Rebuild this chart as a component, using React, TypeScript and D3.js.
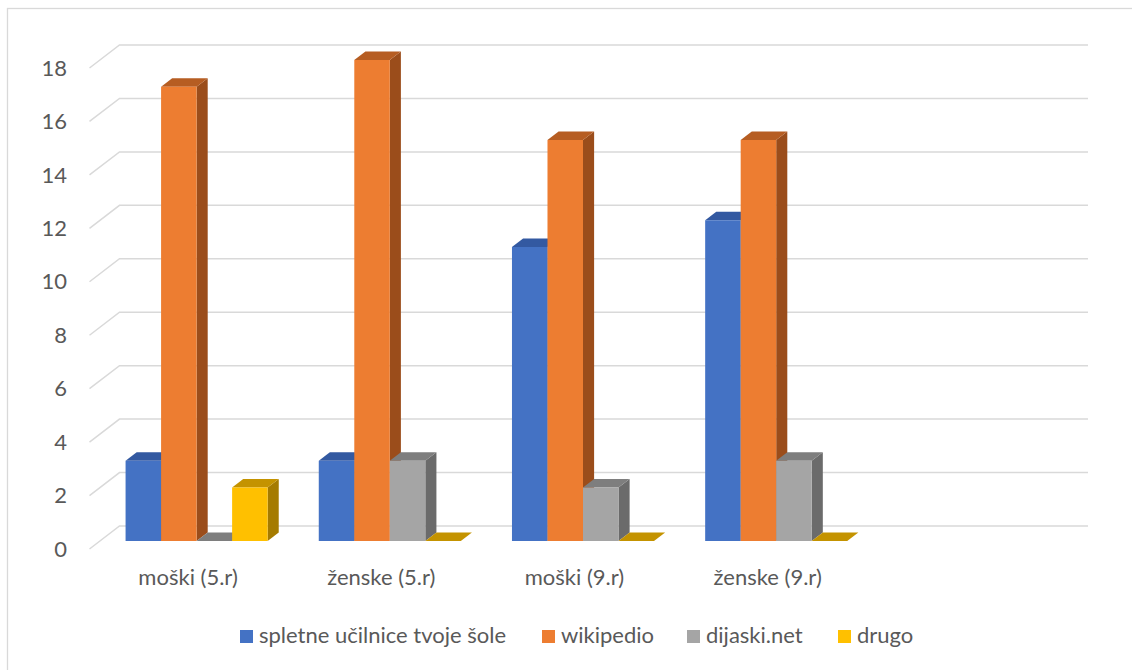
import React from "react";
import * as d3 from "d3";

const categories = ["moški (5.r)", "ženske (5.r)", "moški (9.r)", "ženske (9.r)", ""];
const seriesNames = ["spletne učilnice tvoje šole", "wikipedio", "dijaski.net", "drugo"];
const spletne = [3, 3, 11, 12, null];
const wikipedio = [17, 18, 15, 15, null];
const dijaski = [0, 3, 2, 3, null];
const drugo = [2, 0, 0, 0, null];
const yTicks = [0, 2, 4, 6, 8, 10, 12, 14, 16, 18];

const seriesValues = [spletne, wikipedio, dijaski, drugo];
const fronts = ["#4472C4", "#ED7D31", "#A5A5A5", "#FFC000"];
const tops = ["#3359A1", "#B65D22", "#7E7E7E", "#C49300"];
const sides = ["#2D4F8E", "#9B4D1B", "#6B6B6B", "#A57B00"];

const W = 1132;
const H = 670;
const DX = 30;
const DY = 23;
const Z0 = 0.35;
const Z1 = 0.72;
const FONT = "Lato, 'Open Sans', sans-serif";
const TEXT = "#595959";

export default function App() {
  const y = d3.scaleLinear().domain([0, 18]).range([549, 68]);
  const x = d3.scaleBand<string>().domain(categories.map((c, i) => c + "#" + i)).range([89.5, 1055.5]).padding(0);
  const inner = d3.scaleBand<string>().domain(seriesNames).range([0, x.bandwidth()]).paddingInner(0).paddingOuter(0.72);
  const P = (px: number, v: number, z: number) => [px + z * DX, y(v) - z * DY];
  const pts = (arr: number[][]) => arr.map((p) => p.join(",")).join(" ");

  const bars: JSX.Element[] = [];
  categories.forEach((c, ci) => {
    const bx = x(c + "#" + ci) as number;
    seriesNames.forEach((s, si) => {
      const v = seriesValues[si][ci];
      if (v === null || v === undefined) return;
      const x0 = bx + (inner(s) as number);
      const x1 = x0 + inner.bandwidth();
      const top = pts([P(x0, v, Z0), P(x1, v, Z0), P(x1, v, Z1), P(x0, v, Z1)]);
      if (v === 0) {
        bars.push(<polygon key={`b${ci}-${si}`} points={top} fill={tops[si]} />);
        return;
      }
      const front = pts([P(x0, 0, Z0), P(x1, 0, Z0), P(x1, v, Z0), P(x0, v, Z0)]);
      const side = pts([P(x1, 0, Z0), P(x1, 0, Z1), P(x1, v, Z1), P(x1, v, Z0)]);
      bars.push(
        <g key={`b${ci}-${si}`}>
          <polygon points={side} fill={sides[si]} />
          <polygon points={top} fill={tops[si]} />
          <polygon points={front} fill={fronts[si]} />
        </g>
      );
    });
  });

  const xLeft = x.range()[0];
  const xRight = x.range()[1] + 2.5;
  const legendX = [240, 542, 687, 838];

  return (
    <svg width={W} height={H} style={{ position: "absolute", left: 0, top: 0 }} fontFamily={FONT}>
      <rect x={0} y={0} width={W} height={H} fill="#fff" />
      <rect x={7.5} y={8.5} width={W + 20} height={H + 20} fill="none" stroke="#d9d9d9" strokeWidth={1.3} />
      {yTicks.map((t) => {
        const a = P(xLeft, t, 0);
        const b = P(xLeft, t, 1);
        const c = P(xRight, t, 1);
        return (
          <polyline key={`g${t}`} points={pts([a, b, c])} fill="none" stroke="#d9d9d9" strokeWidth={1.5} />
        );
      })}
      {bars}
      {yTicks.map((t) => (
        <text key={`yt${t}`} x={67} y={y(t)} dy="0.35em" textAnchor="end" fontSize={22} fill={TEXT}>
          {t}
        </text>
      ))}
      {categories.map((c, i) =>
        c ? (
          <text key={`xl${i}`} x={(x(c + "#" + i) as number) + x.bandwidth() / 2 + 2} y={585} textAnchor="middle" fontSize={22} fill={TEXT}>
            {c}
          </text>
        ) : null
      )}
      {seriesNames.map((s, i) => (
        <g key={`lg${i}`}>
          <rect x={legendX[i]} y={630} width={13} height={13} fill={fronts[i]} />
          <text x={legendX[i] + 19} y={643} fontSize={22} fill={TEXT}>
            {s}
          </text>
        </g>
      ))}
    </svg>
  );
}
